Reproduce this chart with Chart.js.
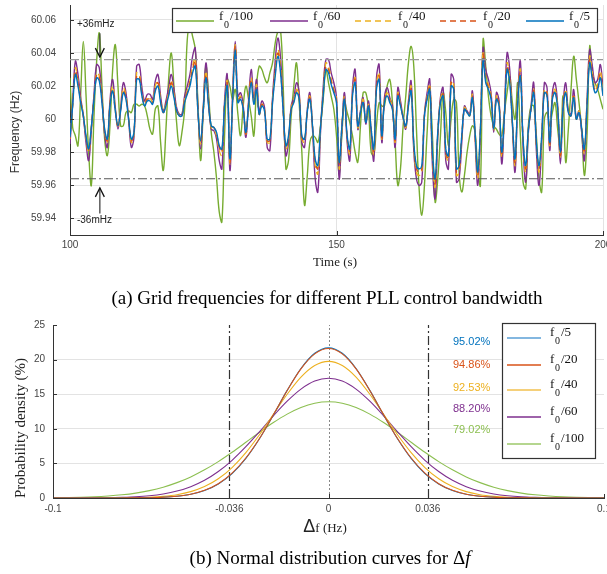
<!DOCTYPE html>
<html>
<head>
<meta charset="utf-8">
<script src="https://cdn.jsdelivr.net/npm/chart.js@4.4.1/dist/chart.umd.min.js"></script>
<style>
  body { margin: 0; background: #fff; }
  #page { position: relative; width: 607px; height: 574px; overflow: hidden; background: #fff; }
  canvas { position: absolute; left: 0; }
  .lbl { position: absolute; white-space: nowrap; transform: translate(-50%, -50%); color: #222; }
  .rot { transform: translate(-50%, -50%) rotate(-90deg); }
  .serif { font-family: "Liberation Serif", "Times New Roman", serif; }
  .sans { font-family: "Liberation Sans", Arial, sans-serif; }
</style>
</head>
<body>
<div id="page">
  <canvas id="freqChart" width="607" height="280" style="top:0"></canvas>
  <canvas id="pdfChart" width="607" height="232" style="top:308px"></canvas>

  <div class="lbl sans rot" style="left:15px;top:132px;font-size:12px;color:#333">Frequency (Hz)</div>
  <div class="lbl serif" style="left:335px;top:262px;font-size:13px">Time (s)</div>
  <div class="lbl serif" style="left:327px;top:298px;font-size:19px;color:#000">(a) Grid frequencies for different PLL control bandwidth</div>

  <div class="lbl serif rot" style="left:20px;top:428px;font-size:15px">Probability density (%)</div>
  <div class="lbl" style="left:325px;top:526px"><span class="sans" style="font-size:18px">Δ</span><span class="serif" style="font-size:13px">f (Hz)</span></div>
  <div class="lbl serif" style="left:330px;top:558px;font-size:19px;color:#000">(b) Normal distribution curves for Δ<i>f</i></div>
</div>

<script>
// ---- (a) grid frequency, deviation from 60 Hz in mHz, sampled every 0.5 s ----
const times = Array.from({ length: 201 }, (_, i) => 100 + i * 0.5)

const devF100 = [
  25, -5, -10, -16, 15, 47, 15, -20, -40, 2,
  35, 52, 20, -12, -22, -4, 30, 45, 20, -4,
  -4, 4, 5, 4, 9, 9, 8, 9, 8, 2,
  -6, -9, 6, 8, -14, -31, -6, 24, 40, 20,
  -2, -16, -8, 6, 48, 56, 50, 42, 10, -25,
  5, 32, 15, -8, -20, -36, -56, -62, -10, 24,
  20, 12, 18, 3, -10, 8, 20, 12, 2, -10,
  20, 32, 30, 25, 22, 28, 34, 46, 53, 54,
  20, -30, -25, 2, 20, 34, 10, -20, -52, -35,
  -14, -10, -11, -14, -4, 12, 30, 22, 14, 6,
  -10, -34, -10, 10, 4, -2, -10, -20, -26, -4,
  16, 16, 6, -20, -22, -4, 10, 8, 8, 20,
  24, 10, -14, -40, -30, -4, 14, 34, 44, 32,
  -6, -42, -58, -40, -8, 16, -10, -50, -36, -10,
  16, 4, -16, 0, 12, 10, -32, -44, -34, -20,
  -10, -4, -8, -30, -40, 48, 32, 14, 2, -4,
  -6, -9, -10, 4, 16, 26, 10, 0, 22, -10,
  -38, -42, -4, 8, 8, -10, -36, -44, 0, 4,
  -4, 4, 10, -6, -18, 14, -26, -6, 18, 38,
  24, 10, -6, -34, -10, 44, 28, 22, 18, 12,
  6
]

const devF60 = [
  -15, 10, 35, 27, 13, 2, -14, -25, -7, 15,
  33, 31, 13, -9, -17, 11, 24, 7, -6, 7,
  22, 16, 0, -17, -11, 32, 33, 19, 11, 15,
  15, 12, 23, 27, 14, 5, 11, 19, 27, 18,
  7, 3, 3, 14, 20, 27, 38, 43, 7, -18,
  7, 34, 11, -6, -7, -12, -25, -30, 11, 27,
  -31, 14, 47, 14, 16, 8, -11, 11, 30, 12,
  24, 4, 11, 7, -17, -19, 13, 35, 49, 37,
  7, -22, -14, 8, 13, 22, 16, -14, -17, 5,
  16, -6, -36, -44, -8, 19, 36, 36, 28, 22,
  13, -36, -7, 16, -14, -25, 19, 30, -6, 5,
  13, -3, 11, -8, -25, 25, 33, -14, 13, 19,
  13, 8, -17, 19, 11, 1, -6, 11, 23, -19,
  -36, -40, -38, 3, 16, 24, -28, -48, -11, 13,
  19, -25, -30, 27, 24, -38, -36, -14, 8, 5,
  3, 17, -11, -40, -8, 43, 30, 24, 16, -8,
  16, 11, -27, 3, 40, 30, -3, -32, 13, 35,
  -16, -38, -8, 8, 22, -19, -40, -14, 22, 19,
  -19, 16, 22, 8, -27, 8, 22, 5, 3, 18,
  0, 5, -8, -25, 11, 42, 32, 22, 24, 33,
  19
]

const devF40 = [
  -12, 9, 31, 23, 12, 3, -11, -20, -6, 14,
  28, 26, 12, -7, -14, 9, 20, 6, -5, 6,
  19, 14, 0, -14, -9, 28, 27, 16, 9, 13,
  13, 10, 20, 23, 12, 5, 9, 16, 23, 15,
  6, 2, 2, 12, 17, 23, 32, 37, 6, -15,
  6, 29, 9, -5, -6, -10, -19, -22, 9, 23,
  -27, 12, 45, 12, 14, 7, -9, 9, 25, 10,
  21, 3, 9, 6, -14, -14, 12, 30, 42, 32,
  6, -18, -12, 7, 12, 18, 14, -12, -14, 5,
  14, -5, -28, -33, -6, 16, 34, 32, 24, 18,
  12, -30, -6, 14, -12, -21, 16, 25, -5, 5,
  12, -2, 9, -7, -21, 21, 28, -12, 12, 16,
  12, 7, -14, 16, 9, 1, -5, 9, 20, -16,
  -32, -34, -32, 2, 14, 21, -23, -41, -9, 12,
  16, -21, -25, 23, 21, -34, -32, -12, 7, 5,
  2, 15, -9, -36, -7, 41, 25, 21, 14, -7,
  14, 9, -23, 2, 34, 25, -2, -28, 12, 30,
  -14, -32, -7, 7, 18, -16, -32, -12, 18, 16,
  -16, 14, 18, 7, -23, 7, 18, 5, 2, 15,
  0, 5, -7, -21, 9, 38, 28, 18, 21, 29,
  16
]

const devF20 = [
  -12, 9, 29, 22, 11, 2, -11, -19, -5, 13,
  27, 25, 11, -7, -13, 9, 18, 5, -4, 6,
  17, 13, 0, -13, -9, 26, 26, 15, 9, 12,
  12, 10, 18, 22, 11, 4, 9, 15, 22, 14,
  5, 2, 2, 11, 16, 22, 30, 35, 5, -14,
  5, 27, 9, -4, -5, -9, -17, -20, 9, 22,
  -26, 11, 44, 11, 13, 6, -9, 9, 24, 10,
  19, 3, 9, 5, -13, -13, 11, 28, 40, 30,
  5, -17, -11, 6, 11, 17, 13, -11, -13, 4,
  13, -4, -26, -30, -5, 15, 32, 30, 23, 17,
  11, -28, -5, 13, -11, -19, 15, 24, -4, 4,
  11, -2, 9, -6, -19, 19, 26, -11, 11, 15,
  11, 6, -13, 15, 9, 1, -4, 9, 18, -15,
  -30, -32, -30, 2, 13, 19, -22, -39, -9, 11,
  15, -19, -24, 22, 19, -32, -30, -11, 6, 4,
  2, 14, -9, -34, -6, 39, 24, 19, 13, -6,
  13, 9, -22, 2, 32, 24, -2, -26, 11, 28,
  -13, -30, -6, 6, 17, -15, -30, -11, 17, 15,
  -15, 13, 17, 6, -22, 6, 17, 4, 2, 14,
  0, 4, -6, -19, 9, 36, 26, 17, 19, 27,
  15
]

const devF5 = [
  -11, 8, 27, 20, 10, 2, -10, -18, -5, 12,
  25, 23, 10, -6, -12, 8, 17, 5, -4, 5,
  16, 12, 0, -12, -8, 24, 24, 14, 8, 11,
  11, 9, 17, 20, 10, 4, 8, 14, 20, 13,
  5, 2, 2, 10, 15, 20, 28, 32, 5, -13,
  5, 25, 8, -4, -5, -8, -16, -18, 8, 20,
  -24, 10, 42, 10, 12, 6, -8, 8, 22, 9,
  18, 3, 8, 5, -12, -12, 10, 26, 38, 28,
  5, -16, -10, 6, 10, 16, 12, -10, -12, 4,
  12, -4, -24, -28, -5, 14, 30, 28, 21, 16,
  10, -26, -5, 12, -10, -18, 14, 22, -4, 4,
  10, -2, 8, -6, -18, 18, 24, -10, 10, 14,
  10, 6, -12, 14, 8, 1, -4, 8, 17, -14,
  -28, -30, -28, 2, 12, 18, -20, -36, -8, 10,
  14, -18, -22, 20, 18, -30, -28, -10, 6, 4,
  2, 13, -8, -32, -6, 36, 22, 18, 12, -6,
  12, 8, -20, 2, 30, 22, -2, -24, 10, 26,
  -12, -28, -6, 6, 16, -14, -28, -10, 16, 14,
  -14, 12, 16, 6, -20, 6, 16, 4, 2, 13,
  0, 4, -6, -18, 8, 34, 24, 16, 18, 25,
  14
]

const freqTicks = [59.94, 59.96, 59.98, 60, 60.02, 60.04, 60.06]
const timeTicks = [100, 150, 200]
const bandHz = 0.036

// ---- (b) normal distribution of delta f, probability density in % ----
const dfGrid = Array.from({ length: 41 }, (_, i) => -0.1 + i * 0.005)

const pdfF5 = [
  0, 0, 0, 0, 0, 0.01, 0.02, 0.04, 0.10, 0.25, 0.53, 1.08, 2.03, 3.53, 5.72, 8.60, 12.00, 15.55, 18.71, 20.91,
  21.7,
  20.91, 18.71, 15.55, 12.00, 8.60, 5.72, 3.53, 2.03, 1.08, 0.53, 0.25, 0.10, 0.04, 0.02, 0.01, 0, 0, 0, 0, 0
]
const pdfF20 = [
  0, 0, 0, 0, 0, 0.01, 0.02, 0.04, 0.11, 0.26, 0.55, 1.11, 2.07, 3.59, 5.78, 8.64, 12.02, 15.53, 18.66, 20.82,
  21.6,
  20.82, 18.66, 15.53, 12.02, 8.64, 5.78, 3.59, 2.07, 1.11, 0.55, 0.26, 0.11, 0.04, 0.02, 0.01, 0, 0, 0, 0, 0
]
const pdfF40 = [
  0, 0, 0, 0, 0.01, 0.02, 0.05, 0.11, 0.24, 0.48, 0.92, 1.65, 2.78, 4.40, 6.56, 9.18, 12.10, 14.99, 17.47, 19.15,
  19.75,
  19.15, 17.47, 14.99, 12.10, 9.18, 6.56, 4.40, 2.78, 1.65, 0.92, 0.48, 0.24, 0.11, 0.05, 0.02, 0.01, 0, 0, 0, 0
]
const pdfF60 = [
  0, 0, 0.01, 0.02, 0.04, 0.09, 0.17, 0.32, 0.58, 1.00, 1.64, 2.56, 3.83, 5.45, 7.41, 9.60, 11.87, 13.99, 15.74, 16.90,
  17.3,
  16.90, 15.74, 13.99, 11.87, 9.60, 7.41, 5.45, 3.83, 2.56, 1.64, 1.00, 0.58, 0.32, 0.17, 0.09, 0.04, 0.02, 0.01, 0, 0
]
const pdfF100 = [
  0.03, 0.06, 0.10, 0.17, 0.29, 0.46, 0.71, 1.07, 1.56, 2.22, 3.05, 4.07, 5.26, 6.61, 8.05, 9.51, 10.90, 12.12, 13.08, 13.69,
  13.9,
  13.69, 13.08, 12.12, 10.90, 9.51, 8.05, 6.61, 5.26, 4.07, 3.05, 2.22, 1.56, 1.07, 0.71, 0.46, 0.29, 0.17, 0.10, 0.06, 0.03
]

const pdfTicksY = [0, 5, 10, 15, 20, 25]
const pdfTicksX = [-0.1, -0.036, 0, 0.036, 0.1]
const pdfTickText = ["-0.1", "-0.036", "0", "0.036", "0.1"]
const withinBand = ["95.02%", "94.86%", "92.53%", "88.20%", "79.02%"]

const SERIF = "'Liberation Serif', 'Times New Roman', serif"
const SANS = "'Liberation Sans', Arial, sans-serif"
const C = {
  blue: "#0072BD",
  orange: "#D95319",
  yellow: "#EDB120",
  purple: "#7E2F8E",
  green: "#77AC30"
}

/**
 * Escribe "f" con subíndice 0 y el divisor
 */
function drawF0(ctx, x, y, suffix, size) {
  ctx.fillStyle = "#111"
  ctx.textBaseline = "alphabetic"
  ctx.textAlign = "left"
  ctx.font = size + "px " + SERIF
  ctx.fillText("f", x, y)
  ctx.font = (size - 3) + "px " + SERIF
  ctx.fillText("0", x + 5, y + 8)
  ctx.font = size + "px " + SERIF
  ctx.fillText(suffix, x + 11, y)
}

function legendLine(ctx, x0, x1, y, color, dash, width) {
  ctx.save()
  ctx.strokeStyle = color
  ctx.lineWidth = width
  ctx.setLineDash(dash)
  ctx.beginPath()
  ctx.moveTo(x0, y)
  ctx.lineTo(x1, y)
  ctx.stroke()
  ctx.restore()
}

function innerTicks(chart) {
  const { ctx, chartArea: a, scales: { x, y } } = chart
  ctx.save()
  ctx.strokeStyle = "#333"
  ctx.lineWidth = 1
  ctx.beginPath()
  y.ticks.forEach((t) => {
    const py = Math.round(y.getPixelForValue(t.value)) + 0.5
    ctx.moveTo(a.left, py)
    ctx.lineTo(a.left + 4, py)
  })
  x.ticks.forEach((t) => {
    const px = Math.round(x.getPixelForValue(t.value)) + 0.5
    ctx.moveTo(px, a.bottom)
    ctx.lineTo(px, a.bottom - 4)
  })
  ctx.stroke()
  ctx.restore()
}

function arrow(ctx, x, yFrom, yTo) {
  const dir = Math.sign(yTo - yFrom)
  ctx.save()
  ctx.lineWidth = 1.3
  ctx.strokeStyle = "#444"
  ctx.beginPath()
  ctx.moveTo(x, yFrom)
  ctx.lineTo(x, yTo)
  ctx.stroke()
  ctx.strokeStyle = "#111"
  ctx.beginPath()
  ctx.moveTo(x - 4.5, yTo - dir * 9)
  ctx.lineTo(x, yTo)
  ctx.lineTo(x + 4.5, yTo - dir * 9)
  ctx.stroke()
  ctx.restore()
}

// ---------------- (a) ----------------
const freqSeries = [
  { name: "/100", dev: devF100, color: C.green, dash: [], order: 4 },
  { name: "/60", dev: devF60, color: C.purple, dash: [], order: 3 },
  { name: "/40", dev: devF40, color: C.yellow, dash: [6, 4], order: 2 },
  { name: "/20", dev: devF20, color: C.orange, dash: [6, 4], order: 1 },
  { name: "/5", dev: devF5, color: C.blue, dash: [], order: 0 }
]
const topLegendX = [176, 270, 355, 440, 526]

const freqDecor = {
  id: "freqDecor",
  afterDatasetsDraw(chart) {
    const { ctx, chartArea: a, scales: { x, y } } = chart
    // bandas de +-36 mHz
    ctx.save()
    ctx.lineWidth = 1.2
    ctx.setLineDash([9, 3, 2, 3])
    ctx.strokeStyle = "#9a9a9a"
    let py = y.getPixelForValue(60 + bandHz)
    ctx.beginPath(); ctx.moveTo(a.left, py); ctx.lineTo(a.right, py); ctx.stroke()
    ctx.strokeStyle = "#555"
    py = y.getPixelForValue(60 - bandHz)
    ctx.beginPath(); ctx.moveTo(a.left, py); ctx.lineTo(a.right, py); ctx.stroke()
    ctx.restore()

    const ax = x.getPixelForValue(105.6)
    arrow(ctx, ax, y.getPixelForValue(60.052), y.getPixelForValue(60.0375))
    arrow(ctx, ax, y.getPixelForValue(59.943), y.getPixelForValue(59.9585))
    ctx.save()
    ctx.fillStyle = "#222"
    ctx.font = "10px " + SANS
    ctx.textBaseline = "middle"
    ctx.fillText("+36mHz", x.getPixelForValue(101.3), y.getPixelForValue(60.0576))
    ctx.fillText("-36mHz", x.getPixelForValue(101.3), y.getPixelForValue(59.9388))
    ctx.restore()
    innerTicks(chart)
  },
  afterDraw(chart) {
    const ctx = chart.ctx
    ctx.save()
    ctx.fillStyle = "#fff"
    ctx.fillRect(172, 8, 426, 25)
    ctx.strokeStyle = "#333"
    ctx.lineWidth = 1.2
    ctx.strokeRect(172.5, 8.5, 425, 24)
    freqSeries.forEach((s, i) => {
      const x0 = topLegendX[i]
      legendLine(ctx, x0, x0 + 38, 21, s.color, s.dash, 1.4)
      drawF0(ctx, x0 + 43, 20, s.name, 13)
    })
    ctx.restore()
  }
}

new Chart(document.getElementById("freqChart"), {
  type: "line",
  data: {
    datasets: freqSeries.map((s) => ({
      label: "f0" + s.name,
      data: s.dev.map((v, i) => ({ x: times[i], y: 60 + v / 1000 })),
      borderColor: s.color,
      borderDash: s.dash,
      borderWidth: 1.4,
      order: s.order,
      fill: false
    }))
  },
  options: {
    responsive: false,
    animation: false,
    devicePixelRatio: 1,
    layout: { padding: { top: 5, right: 4, left: 0, bottom: 0 } },
    elements: { point: { radius: 0 }, line: { tension: 0.4, borderJoinStyle: "round" } },
    plugins: { legend: { display: false }, tooltip: { enabled: false } },
    scales: {
      x: {
        type: "linear",
        min: 100,
        max: 200,
        afterBuildTicks: (s) => { s.ticks = timeTicks.map((v) => ({ value: v })) },
        afterFit: (s) => { s.height = 45; s.paddingLeft = 0; s.paddingRight = 0 },
        ticks: { font: { family: SANS, size: 10 }, color: "#444", padding: 4, maxRotation: 0, autoSkip: false },
        grid: { color: "#e3e3e3", drawTicks: false },
        border: { color: "#333" }
      },
      y: {
        min: 59.93,
        max: 60.069,
        afterBuildTicks: (s) => { s.ticks = freqTicks.map((v) => ({ value: v })) },
        afterFit: (s) => { s.width = 70; s.paddingTop = 0; s.paddingBottom = 0 },
        ticks: {
          font: { family: SANS, size: 10 },
          color: "#444",
          padding: 14,
          callback: (v) => String(Number(Number(v).toFixed(2)))
        },
        grid: { color: "#e3e3e3", drawTicks: false },
        border: { color: "#333" }
      }
    }
  },
  plugins: [freqDecor]
})

// ---------------- (b) ----------------
const pdfSeries = [
  { name: "/5", values: pdfF5, color: C.blue, legendColor: "#5a9fd6", order: 1 },
  { name: "/20", values: pdfF20, color: C.orange, legendColor: C.orange, order: 0 },
  { name: "/40", values: pdfF40, color: C.yellow, legendColor: "#f2c14e", order: 2 },
  { name: "/60", values: pdfF60, color: C.purple, legendColor: C.purple, order: 3 },
  { name: "/100", values: pdfF100, color: "#8cbf50", legendColor: "#9cc86a", order: 4 }
]
const pctY = [34, 57, 80, 101, 122]
const bottomLegendY = [30, 57, 82, 109, 136]

const pdfDecor = {
  id: "pdfDecor",
  beforeDatasetsDraw(chart) {
    const { ctx, chartArea: a, scales: { x } } = chart
    ctx.save()
    ctx.lineWidth = 1.2
    ctx.strokeStyle = "#333"
    ctx.setLineDash([9, 3, 2, 3])
    ;[-bandHz, bandHz].forEach((v) => {
      const px = Math.round(x.getPixelForValue(v)) + 0.5
      ctx.beginPath(); ctx.moveTo(px, a.bottom); ctx.lineTo(px, a.top); ctx.stroke()
    })
    ctx.lineWidth = 1
    ctx.strokeStyle = "#888"
    ctx.setLineDash([2, 2])
    const p0 = Math.round(x.getPixelForValue(0)) + 0.5
    ctx.beginPath(); ctx.moveTo(p0, a.bottom); ctx.lineTo(p0, a.top); ctx.stroke()
    ctx.restore()
  },
  afterDatasetsDraw(chart) {
    innerTicks(chart)
  },
  afterDraw(chart) {
    const ctx = chart.ctx
    ctx.save()
    ctx.font = "11px " + SANS
    ctx.textBaseline = "middle"
    ctx.textAlign = "left"
    withinBand.forEach((t, i) => {
      ctx.fillStyle = pdfSeries[i].color
      ctx.fillText(t, 453, pctY[i])
    })
    ctx.fillStyle = "#fff"
    ctx.fillRect(502, 15, 94, 136)
    ctx.strokeStyle = "#333"
    ctx.lineWidth = 1.2
    ctx.strokeRect(502.5, 15.5, 93, 135)
    pdfSeries.forEach((s, i) => {
      const ly = bottomLegendY[i]
      legendLine(ctx, 507, 541, ly, s.legendColor, [], 1.6)
      drawF0(ctx, 550, ly - 2, s.name, 13)
    })
    ctx.restore()
  }
}

new Chart(document.getElementById("pdfChart"), {
  type: "line",
  data: {
    datasets: pdfSeries.map((s) => ({
      label: "f0" + s.name,
      data: s.values.map((v, i) => ({ x: dfGrid[i], y: v })),
      borderColor: s.color,
      borderWidth: 1.1,
      order: s.order,
      fill: false,
      cubicInterpolationMode: "monotone"
    }))
  },
  options: {
    responsive: false,
    animation: false,
    devicePixelRatio: 1,
    layout: { padding: { top: 17, right: 3, left: 0, bottom: 0 } },
    elements: { point: { radius: 0 } },
    plugins: { legend: { display: false }, tooltip: { enabled: false } },
    scales: {
      x: {
        type: "linear",
        min: -0.1,
        max: 0.1,
        afterBuildTicks: (s) => { s.ticks = pdfTicksX.map((v) => ({ value: v })) },
        afterFit: (s) => { s.height = 42; s.paddingLeft = 0; s.paddingRight = 0 },
        ticks: {
          font: { family: SANS, size: 10 },
          color: "#444",
          padding: 5,
          maxRotation: 0,
          autoSkip: false,
          callback: (v, i) => pdfTickText[i]
        },
        grid: { display: false, drawTicks: false },
        border: { color: "#333" }
      },
      y: {
        min: 0,
        max: 25,
        afterBuildTicks: (s) => { s.ticks = pdfTicksY.map((v) => ({ value: v })) },
        afterFit: (s) => { s.width = 53; s.paddingTop = 0; s.paddingBottom = 0 },
        ticks: { font: { family: SANS, size: 10 }, color: "#444", padding: 8 },
        grid: {
          drawTicks: false,
          color: (c) => (c.tick && (c.tick.value === 0 || c.tick.value === 25) ? "rgba(0,0,0,0)" : "#e3e3e3")
        },
        border: { color: "#333" }
      }
    }
  },
  plugins: [pdfDecor]
})
</script>
</body>
</html>
